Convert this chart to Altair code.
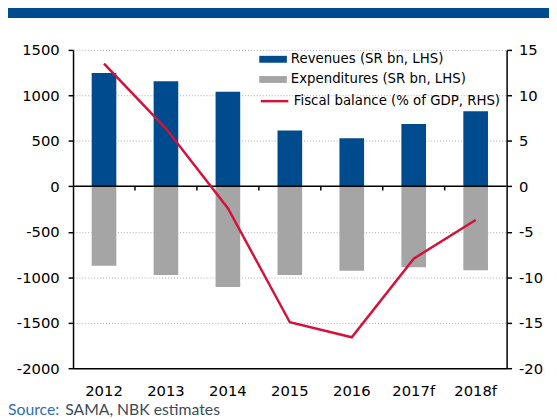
import altair as alt
import pandas as pd

years = ["2012", "2013", "2014", "2015", "2016", "2017f", "2018f"]
revenues = [1245, 1155, 1040, 615, 528, 685, 825]
expenditures = [-873, -976, -1108, -975, -928, -890, -922]
fiscal_balance = [13.5, 6.35, -2.4, -14.95, -16.6, -7.95, -3.7]

series_names = ["Revenues (SR bn, LHS)", "Expenditures (SR bn, LHS)",
                "Fiscal balance (% of GDP, RHS)"]
series_colors = ["#004b8d", "#a5a5a5", "#d4123a"]
left_ticks = [-2000, -1500, -1000, -500, 0, 500, 1000, 1500]
right_ticks = [-20, -15, -10, -5, 0, 5, 10, 15]
title_text = "Chart 6: Fiscal balance"
source_label = "Source:"
source_text = "SAMA, NBK estimates"

bars_df = pd.DataFrame({
    "year": years * 2,
    "series": [series_names[0]] * len(years) + [series_names[1]] * len(years),
    "value": revenues + expenditures,
})
line_df = pd.DataFrame({"year": years, "balance": fiscal_balance,
                        "series": [series_names[2]] * len(years)})
tick_df = pd.DataFrame({"year": years[1:]})
one = pd.DataFrame({"v": [0]})

W, H = 440, 323
FONT = "DejaVu Sans"
HYPHEN = "replace(format(datum.value, 'd'), '\u2212', '-')"

x_scale = alt.Scale(domain=years, paddingInner=0, paddingOuter=0)
x_axis = alt.Axis(orient="bottom", labelAngle=0, ticks=False, tickSize=0,
                  labelPadding=16, domainColor="black", domainWidth=1.5,
                  labelFont=FONT, labelFontSize=15, labelColor="black",
                  grid=False, title=None)


def xenc(**kw):
    return alt.X("year:N", sort=years, title=None, scale=x_scale, axis=x_axis, **kw)


bars = alt.Chart(bars_df).mark_bar(width=25).encode(
    x=xenc(),
    y=alt.Y("value:Q", title=None,
            scale=alt.Scale(domain=[-2000, 1500], nice=False, zero=False),
            axis=alt.Axis(orient="left", values=left_ticks, grid=True,
                          labelExpr=HYPHEN,
                          gridDash=[1, 2], gridColor="#aaaaaa", gridWidth=1,
                          tickSize=5, tickColor="black", tickWidth=1.5,
                          domainColor="black", domainWidth=1.5,
                          labelPadding=9, labelFont=FONT, labelFontSize=15,
                          labelColor="black")),
    color=alt.Color("series:N",
                    scale=alt.Scale(domain=series_names[:2], range=series_colors[:2]),
                    legend=alt.Legend(
                        orient="none", legendX=196, legendY=2.5, title=None,
                        direction="vertical",
                        symbolType="M-2,-0.5H2V0.5H-2Z", symbolSize=196,
                        symbolStrokeWidth=0, labelFont=FONT, labelFontSize=13.5,
                        labelColor="black", labelOffset=11, rowPadding=6.5,
                        labelLimit=400, padding=0)),
)

zero_rule = alt.Chart(one).mark_rule(color="black", strokeWidth=1.5).encode(
    y=alt.Y("v:Q")
)

zero_ticks = alt.Chart(tick_df).mark_rule(color="black", strokeWidth=1.5).encode(
    x=xenc(bandPosition=0),
    y=alt.Y(datum=0),
    y2=alt.Y2(datum=-45),
)

left = alt.layer(bars, zero_rule, zero_ticks)

line = alt.Chart(line_df).mark_line(strokeWidth=2.5).encode(
    x=xenc(),
    y=alt.Y("balance:Q", title=None,
            scale=alt.Scale(domain=[-20, 15], nice=False, zero=False),
            axis=alt.Axis(orient="right", values=right_ticks, grid=False,
                          labelExpr=HYPHEN,
                          tickSize=5, tickColor="black", tickWidth=1.5,
                          domainColor="black", domainWidth=1.5,
                          labelPadding=7, labelFont=FONT, labelFontSize=15,
                          labelColor="black")),
    stroke=alt.Stroke("series:N",
                      scale=alt.Scale(domain=[series_names[2]], range=[series_colors[2]]),
                      legend=alt.Legend(
                          orient="none", legendX=189, legendY=36.5, title=None,
                          symbolType="stroke", symbolSize=784, symbolStrokeWidth=2.5,
                          labelFont=FONT, labelFontSize=13.5, labelColor="black",
                          labelOffset=4, labelLimit=400, padding=0)),
)

banner = alt.Chart(one).mark_rect(color="#004b8d").encode(
    x=alt.value(-66), x2=alt.value(W + 43), y=alt.value(-60), y2=alt.value(-32.5)
)
banner_text = alt.Chart(one).mark_text(
    text=title_text, color="white", font=FONT, fontSize=16, fontWeight="bold",
    align="center", baseline="alphabetic"
).encode(x=alt.value(204), y=alt.value(-44.5))

src1 = alt.Chart(one).mark_text(
    text=source_label, color="#2f6db5", font="Lato", fontSize=16,
    align="left", baseline="alphabetic"
).encode(x=alt.value(-66), y=alt.value(370))
src2 = alt.Chart(one).mark_text(
    text=source_text, color="#3d4a57", font="Lato", fontSize=16,
    align="left", baseline="alphabetic"
).encode(x=alt.value(-8), y=alt.value(370))

chart = alt.layer(banner, banner_text, left, line, src1, src2).resolve_scale(
    y="independent"
).properties(
    width=W, height=H,
    autosize=alt.AutoSizeParams(type="none"),
    padding={"left": 66, "top": 39.5, "right": 43, "bottom": 48.5},
    background="white",
).configure_view(stroke=None)

chart.save("out.html", embed_options={"renderer": "svg", "actions": False})
